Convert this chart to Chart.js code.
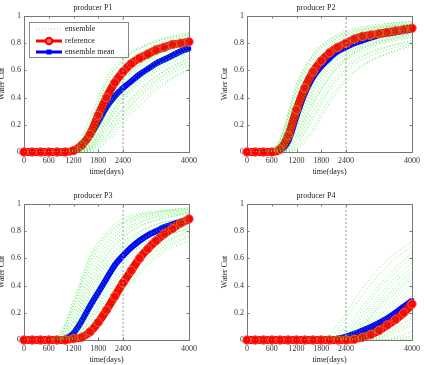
<!DOCTYPE html>
<html>
<head>
<meta charset="utf-8">
<script src="https://cdn.jsdelivr.net/npm/chart.js@4/dist/chart.umd.min.js"></script>
<style>
  body { margin: 0; width: 424px; height: 365px; overflow: hidden; background: #fff; position: relative; }
  canvas { position: absolute; }
</style>
</head>
<body>
<canvas id="p1" width="208" height="180" style="left:-7px;top:0"></canvas>
<canvas id="p2" width="208" height="180" style="left:216px;top:0"></canvas>
<canvas id="p3" width="208" height="180" style="left:-7px;top:188px"></canvas>
<canvas id="p4" width="208" height="180" style="left:216px;top:188px"></canvas>
<script>
// time axis
const days = [0,200,400,600,800,1000,1200,1400,1600,1800,2000,2200,2400,2600,2800,3000,3200,3400,3600,3800,4000];
const ensDays = [0,400,800,1200,1600,2000,2400,2800,3200,3600,4000];
const xTicks = [0,600,1200,1800,2400,4000];
const yTicks = [0,0.2,0.4,0.6,0.8,1];
const splitDay = 2400;

const titles = ['producer P1','producer P2','producer P3','producer P4'];
const legendLabels = ['ensemble','reference','ensemble mean'];

// producer P1
const p1Ref  = [0,0,0,0,0,0,0.01,0.05,0.13,0.27,0.40,0.51,0.59,0.65,0.69,0.72,0.75,0.77,0.79,0.80,0.81];
const p1Mean = [0,0,0,0,0,0,0.01,0.05,0.12,0.22,0.33,0.41,0.47,0.52,0.57,0.61,0.65,0.68,0.71,0.74,0.76];
const p1Ens = [
  [0,0,0,0.02,0.25,0.55,0.70,0.77,0.82,0.85,0.87],
  [0,0,0,0.01,0.22,0.52,0.68,0.76,0.81,0.84,0.86],
  [0,0,0,0.01,0.18,0.47,0.64,0.73,0.79,0.83,0.86],
  [0,0,0,0.01,0.16,0.44,0.61,0.71,0.77,0.81,0.85],
  [0,0,0,0.01,0.15,0.40,0.58,0.69,0.76,0.80,0.84],
  [0,0,0,0,0.12,0.36,0.54,0.65,0.72,0.77,0.81],
  [0,0,0,0,0.11,0.34,0.53,0.64,0.71,0.76,0.80],
  [0,0,0,0,0.10,0.32,0.50,0.62,0.70,0.75,0.79],
  [0,0,0,0,0.09,0.29,0.47,0.59,0.67,0.73,0.78],
  [0,0,0,0,0.08,0.28,0.46,0.58,0.66,0.72,0.77],
  [0,0,0,0,0.06,0.25,0.43,0.55,0.64,0.70,0.75],
  [0,0,0,0,0.05,0.23,0.41,0.54,0.63,0.69,0.74],
  [0,0,0,0,0.05,0.22,0.40,0.52,0.61,0.68,0.73],
  [0,0,0,0,0.04,0.20,0.37,0.50,0.59,0.66,0.71],
  [0,0,0,0,0.03,0.17,0.33,0.46,0.56,0.63,0.69],
  [0,0,0,0,0.03,0.16,0.32,0.45,0.55,0.63,0.69],
  [0,0,0,0,0.02,0.14,0.30,0.43,0.53,0.61,0.67],
  [0,0,0,0,0.02,0.12,0.28,0.41,0.52,0.60,0.66],
  [0,0,0,0,0.01,0.11,0.27,0.40,0.50,0.58,0.64],
  [0,0,0,0,0.01,0.09,0.24,0.37,0.47,0.55,0.61],
  [0,0,0,0,0,0.07,0.21,0.34,0.45,0.54,0.60],
  [0,0,0,0.01,0.20,0.50,0.67,0.76,0.81,0.85,0.88],
  [0,0,0,0,0.07,0.30,0.52,0.64,0.72,0.78,0.83],
  [0,0,0,0,0.03,0.19,0.38,0.53,0.63,0.70,0.75]
];

// producer P2
const p2Ref  = [0,0,0,0,0.02,0.12,0.31,0.47,0.59,0.67,0.73,0.77,0.80,0.83,0.85,0.86,0.87,0.88,0.89,0.90,0.91];
const p2Mean = [0,0,0,0,0.01,0.08,0.26,0.43,0.55,0.63,0.69,0.74,0.77,0.80,0.82,0.84,0.86,0.87,0.88,0.89,0.90];
const p2Ens = [
  [0,0,0.10,0.50,0.72,0.83,0.89,0.92,0.94,0.95,0.96],
  [0,0,0.09,0.48,0.71,0.82,0.88,0.91,0.93,0.95,0.96],
  [0,0,0.07,0.44,0.68,0.80,0.86,0.90,0.92,0.94,0.95],
  [0,0,0.06,0.41,0.66,0.78,0.85,0.89,0.91,0.93,0.94],
  [0,0,0.05,0.38,0.63,0.76,0.83,0.88,0.90,0.92,0.93],
  [0,0,0.03,0.33,0.59,0.73,0.81,0.86,0.89,0.91,0.92],
  [0,0,0.03,0.30,0.57,0.72,0.80,0.85,0.88,0.90,0.92],
  [0,0,0.02,0.28,0.55,0.70,0.79,0.84,0.87,0.89,0.91],
  [0,0,0.02,0.26,0.53,0.69,0.78,0.83,0.86,0.89,0.90],
  [0,0,0.02,0.24,0.50,0.66,0.76,0.82,0.85,0.88,0.90],
  [0,0,0.01,0.20,0.46,0.63,0.73,0.79,0.83,0.86,0.88],
  [0,0,0.01,0.18,0.44,0.61,0.72,0.78,0.82,0.85,0.87],
  [0,0,0.01,0.16,0.41,0.59,0.70,0.77,0.81,0.84,0.86],
  [0,0,0,0.14,0.38,0.57,0.69,0.76,0.80,0.83,0.85],
  [0,0,0,0.12,0.36,0.55,0.67,0.74,0.79,0.82,0.84],
  [0,0,0,0.08,0.30,0.50,0.63,0.71,0.76,0.79,0.82],
  [0,0,0,0.06,0.27,0.47,0.61,0.70,0.75,0.79,0.81],
  [0,0,0,0.05,0.24,0.45,0.59,0.68,0.73,0.77,0.80],
  [0,0,0,0.03,0.18,0.39,0.54,0.64,0.70,0.74,0.78],
  [0,0,0,0.02,0.15,0.36,0.52,0.63,0.70,0.75,0.79],
  [0,0,0.08,0.46,0.70,0.81,0.87,0.90,0.92,0.93,0.94],
  [0,0,0.04,0.36,0.62,0.76,0.84,0.88,0.91,0.93,0.94],
  [0,0,0.01,0.22,0.48,0.65,0.75,0.81,0.85,0.87,0.89],
  [0,0,0,0.10,0.34,0.55,0.68,0.76,0.81,0.84,0.87]
];

// producer P3
const p3Ref  = [0,0,0,0,0,0,0.01,0.02,0.06,0.13,0.22,0.32,0.42,0.51,0.60,0.67,0.73,0.78,0.82,0.86,0.89];
const p3Mean = [0,0,0,0,0,0.01,0.05,0.14,0.25,0.35,0.45,0.55,0.62,0.68,0.73,0.77,0.80,0.83,0.85,0.87,0.88];
const p3Ens = [
  [0,0,0.02,0.30,0.62,0.80,0.89,0.93,0.95,0.96,0.97],
  [0,0,0.01,0.27,0.60,0.78,0.87,0.92,0.94,0.96,0.97],
  [0,0,0.01,0.24,0.55,0.75,0.85,0.90,0.93,0.95,0.96],
  [0,0,0,0.21,0.52,0.72,0.83,0.89,0.92,0.94,0.95],
  [0,0,0,0.18,0.48,0.69,0.81,0.87,0.91,0.93,0.94],
  [0,0,0,0.13,0.42,0.63,0.76,0.84,0.88,0.91,0.93],
  [0,0,0,0.11,0.39,0.61,0.75,0.83,0.88,0.91,0.93],
  [0,0,0,0.09,0.36,0.58,0.72,0.80,0.85,0.88,0.90],
  [0,0,0,0.08,0.33,0.56,0.70,0.79,0.85,0.88,0.91],
  [0,0,0,0.06,0.30,0.53,0.68,0.77,0.83,0.86,0.89],
  [0,0,0,0.04,0.25,0.47,0.63,0.73,0.80,0.84,0.87],
  [0,0,0,0.03,0.22,0.45,0.61,0.72,0.79,0.84,0.87],
  [0,0,0,0.02,0.20,0.42,0.58,0.69,0.76,0.81,0.85],
  [0,0,0,0.01,0.17,0.39,0.56,0.68,0.76,0.81,0.85],
  [0,0,0,0.01,0.15,0.36,0.53,0.65,0.73,0.78,0.82],
  [0,0,0,0.01,0.11,0.30,0.47,0.60,0.69,0.75,0.80],
  [0,0,0,0,0.09,0.27,0.44,0.58,0.67,0.74,0.79],
  [0,0,0,0,0.07,0.24,0.41,0.55,0.65,0.72,0.77],
  [0,0,0,0,0.05,0.20,0.37,0.51,0.62,0.70,0.76],
  [0,0,0,0,0.04,0.18,0.35,0.49,0.60,0.68,0.73],
  [0,0,0.01,0.26,0.58,0.77,0.86,0.91,0.94,0.95,0.96],
  [0,0,0,0.15,0.45,0.66,0.79,0.86,0.90,0.92,0.94],
  [0,0,0,0.05,0.27,0.50,0.66,0.76,0.82,0.86,0.89],
  [0,0,0,0.02,0.13,0.33,0.50,0.63,0.72,0.78,0.83]
];

// producer P4
const p4Ref  = [0,0,0,0,0,0,0,0,0,0,0,0,0,0.005,0.02,0.04,0.07,0.11,0.15,0.20,0.265];
const p4Mean = [0,0,0,0,0,0,0,0,0,0,0.005,0.01,0.025,0.045,0.07,0.095,0.125,0.16,0.20,0.245,0.29];
const p4Ens = [
  [0,0,0,0,0,0.04,0.20,0.38,0.53,0.64,0.72],
  [0,0,0,0,0,0.02,0.16,0.33,0.48,0.60,0.69],
  [0,0,0,0,0,0.01,0.10,0.25,0.40,0.53,0.64],
  [0,0,0,0,0,0.01,0.08,0.22,0.37,0.50,0.61],
  [0,0,0,0,0,0,0.06,0.19,0.33,0.46,0.57],
  [0,0,0,0,0,0,0.05,0.17,0.30,0.43,0.54],
  [0,0,0,0,0,0,0.04,0.14,0.27,0.40,0.51],
  [0,0,0,0,0,0,0.02,0.11,0.24,0.36,0.47],
  [0,0,0,0,0,0,0.02,0.10,0.22,0.34,0.45],
  [0,0,0,0,0,0,0.01,0.08,0.19,0.31,0.42],
  [0,0,0,0,0,0,0.01,0.07,0.17,0.28,0.39],
  [0,0,0,0,0,0,0,0.05,0.15,0.25,0.36],
  [0,0,0,0,0,0,0,0.04,0.13,0.23,0.33],
  [0,0,0,0,0,0,0,0.02,0.09,0.18,0.27],
  [0,0,0,0,0,0,0,0.02,0.08,0.16,0.24],
  [0,0,0,0,0,0,0,0.01,0.06,0.13,0.21],
  [0,0,0,0,0,0,0,0,0.03,0.09,0.16],
  [0,0,0,0,0,0,0,0,0.02,0.07,0.13],
  [0,0,0,0,0,0,0,0,0.01,0.05,0.11],
  [0,0,0,0,0,0,0,0,0,0.02,0.06],
  [0,0,0,0,0,0,0,0,0,0.01,0.03],
  [0,0,0,0,0,0,0.03,0.12,0.25,0.38,0.49],
  [0,0,0,0,0,0,0,0.03,0.11,0.21,0.30],
  [0,0,0,0,0,0,0,0,0,0,0.01]
];

const FONT = 'Liberation Serif';
const ENS_COLOR = 'rgba(40,225,40,0.6)';
const pts = (xs, ys) => xs.map((x, i) => ({x: x, y: ys[i]}));

// box round the axes with inward tick marks, drawn under the data
const framePlugin = {
  id: 'frame',
  beforeDatasetsDraw(chart) {
    const {ctx, chartArea: a, scales} = chart;
    ctx.save();
    ctx.strokeStyle = '#777';
    ctx.lineWidth = 1;
    ctx.strokeRect(Math.round(a.left) + 0.5, Math.round(a.top) + 0.5, Math.round(a.width), Math.round(a.height));
    ctx.beginPath();
    xTicks.forEach(v => {
      const x = Math.round(scales.x.getPixelForValue(v)) + 0.5;
      ctx.moveTo(x, a.top); ctx.lineTo(x, a.top + 2.5);
      ctx.moveTo(x, a.bottom); ctx.lineTo(x, a.bottom - 2.5);
    });
    yTicks.forEach(v => {
      const y = Math.round(scales.y.getPixelForValue(v)) + 0.5;
      ctx.moveTo(a.left, y); ctx.lineTo(a.left + 2.5, y);
      ctx.moveTo(a.right, y); ctx.lineTo(a.right - 2.5, y);
    });
    ctx.stroke();
    ctx.restore();
  }
};

// legend box inside the first panel
const boxLegend = {
  id: 'boxLegend',
  afterDatasetsDraw(chart, args, opts) {
    if (!opts.show) return;
    const {ctx, chartArea: a} = chart;
    const bx = a.left + 5, by = a.top + 6;
    ctx.save();
    ctx.fillStyle = '#fff';
    ctx.strokeStyle = '#888';
    ctx.lineWidth = 1;
    ctx.fillRect(bx, by, 99, 35);
    ctx.strokeRect(Math.round(bx) + 0.5, Math.round(by) + 0.5, 99, 35);
    const x0 = bx + 7, x1 = bx + 33, xm = (x0 + x1) / 2;
    const rows = [by + 7, by + 19, by + 30];
    // ensemble
    ctx.strokeStyle = ENS_COLOR;
    ctx.setLineDash([1, 2]);
    ctx.beginPath(); ctx.moveTo(x0, rows[0]); ctx.lineTo(x1, rows[0]); ctx.stroke();
    ctx.setLineDash([]);
    // reference
    ctx.strokeStyle = '#f00';
    ctx.lineWidth = 3;
    ctx.beginPath(); ctx.moveTo(x0, rows[1]); ctx.lineTo(x1, rows[1]); ctx.stroke();
    ctx.fillStyle = '#ff6a6a';
    ctx.lineWidth = 2;
    ctx.beginPath(); ctx.arc(xm, rows[1], 3.3, 0, Math.PI * 2); ctx.fill(); ctx.stroke();
    // ensemble mean
    ctx.strokeStyle = '#00f';
    ctx.lineWidth = 3;
    ctx.beginPath(); ctx.moveTo(x0, rows[2]); ctx.lineTo(x1, rows[2]); ctx.stroke();
    ctx.fillStyle = '#00f';
    ctx.fillRect(xm - 2.5, rows[2] - 2.5, 5, 5);
    // labels
    ctx.fillStyle = '#222';
    ctx.font = '8px "' + FONT + '"';
    ctx.textBaseline = 'middle';
    legendLabels.forEach((t, i) => ctx.fillText(t, x1 + 3, rows[i]));
    ctx.restore();
  }
};

function makeChart(id, title, ens, ref, mean, withLegend) {
  const datasets = [];
  datasets.push({
    data: [{x: splitDay, y: 0}, {x: splitDay, y: 1}],
    borderColor: '#9a9a9a', borderWidth: 1, borderDash: [2, 2], pointRadius: 0
  });
  ens.forEach((vals, i) => {
    datasets.push({
      label: i === 0 ? legendLabels[0] : '',
      data: pts(ensDays, vals),
      borderColor: ENS_COLOR, borderWidth: 1, borderDash: [1, 2],
      pointRadius: 0, cubicInterpolationMode: 'monotone'
    });
  });
  datasets.push({
    label: legendLabels[1],
    data: pts(days, ref),
    borderColor: '#ff0000', borderWidth: 8,
    pointStyle: 'circle', pointRadius: 4.2, pointBorderWidth: 1,
    pointBackgroundColor: '#ff0000', pointBorderColor: '#ff4d4d',
    cubicInterpolationMode: 'monotone', clip: false
  });
  datasets.push({
    label: legendLabels[2],
    data: pts(days, mean),
    borderColor: '#0000ff', borderWidth: 6,
    pointStyle: 'rect', pointRadius: 3, pointBorderWidth: 0,
    pointBackgroundColor: '#0000ff',
    cubicInterpolationMode: 'monotone', clip: false
  });

  const font = {family: FONT, size: 8};
  return new Chart(document.getElementById(id), {
    type: 'line',
    data: {datasets: datasets},
    options: {
      responsive: false,
      animation: false,
      layout: {padding: {top: 0, left: 0, right: 8, bottom: 0}},
      plugins: {
        legend: {display: false},
        tooltip: {enabled: false},
        title: {display: true, text: title, font: {family: FONT, size: 8, weight: 'normal'},
                color: '#222', padding: {top: 3, bottom: 3.4}},
        boxLegend: {show: withLegend}
      },
      scales: {
        x: {
          type: 'linear', min: 0, max: 4000,
          afterBuildTicks: s => { s.ticks = xTicks.map(v => ({value: v})); },
          afterFit: s => { s.height = 28; },
          grid: {display: false, drawTicks: false},
          border: {display: false},
          ticks: {font: font, color: '#333', padding: 4, maxRotation: 0, autoSkip: false,
                  callback: v => String(v)},
          title: {display: true, text: 'time(days)', font: font, color: '#222', padding: {top: 0, bottom: 3}}
        },
        y: {
          min: 0, max: 1,
          afterBuildTicks: s => { s.ticks = yTicks.map(v => ({value: v})); },
          afterFit: s => { s.width = 31; },
          grid: {display: false, drawTicks: false},
          border: {display: false},
          ticks: {font: font, color: '#333', padding: 3, callback: v => String(v)},
          title: {display: true, text: 'Water Cut', font: font, color: '#222', padding: {top: 4, bottom: 0}}
        }
      }
    },
    plugins: [framePlugin, boxLegend]
  });
}

makeChart('p1', titles[0], p1Ens, p1Ref, p1Mean, true);
makeChart('p2', titles[1], p2Ens, p2Ref, p2Mean, false);
makeChart('p3', titles[2], p3Ens, p3Ref, p3Mean, false);
makeChart('p4', titles[3], p4Ens, p4Ref, p4Mean, false);
</script>
</body>
</html>
